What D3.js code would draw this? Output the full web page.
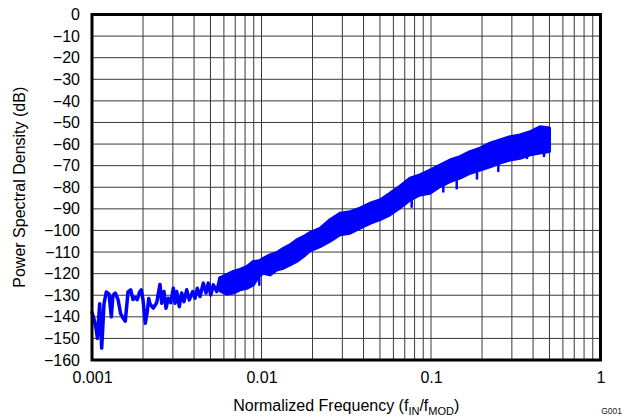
<!DOCTYPE html>
<html><head><meta charset="utf-8">
<script src="https://cdn.jsdelivr.net/npm/d3@7"></script>
<style>body{margin:0;background:#fff}svg{display:block}text{font-family:"Liberation Sans",Arial,sans-serif}</style>
</head><body>
<svg id="c" width="625" height="418"></svg>
<script>
const xTicks = [0.001, 0.01, 0.1, 1];
const xTickLabels = ["0.001", "0.01", "0.1", "1"];
const yTicks = [0, -10, -20, -30, -40, -50, -60, -70, -80, -90, -100, -110, -120, -130, -140, -150, -160];

// low-frequency trace (single line)
const lowFreq = [0.001000, 0.001027, 0.001060, 0.001075, 0.001110, 0.001141, 0.001177, 0.001214, 0.001260, 0.001300,
  0.001330, 0.001372, 0.001424, 0.001476, 0.001523, 0.001572, 0.001631, 0.001692, 0.001746, 0.001786,
  0.001850, 0.001911, 0.001953, 0.001999, 0.002063, 0.002120, 0.002161,
  0.002198, 0.002300, 0.002408, 0.002519, 0.002577, 0.002659, 0.002733, 0.002819, 0.002913, 0.003018,
  0.003089, 0.003161, 0.003273, 0.003382, 0.003489, 0.003621, 0.003750, 0.003927, 0.004052, 0.004181,
  0.004337, 0.004536, 0.004706, 0.004855, 0.005016, 0.005195, 0.005442, 0.005690, 0.005952, 0.006233];
const lowPsd = [-138, -141, -146, -150, -134, -154.5, -134, -128.5, -129.5, -140,
  -130, -129, -132, -138.5, -140.5, -142, -128.5, -127.5, -132, -131,
  -132, -128.5, -127.5, -132, -143, -137.5, -131.5,
  -134, -136, -133.5, -125, -133.7, -128.3, -136, -131.4, -133.5, -126.8,
  -133.7, -128.3, -135.3, -129, -133, -127.5, -132.2, -128.3, -131.4, -126.8,
  -130.6, -124.4, -129, -124.4, -129.9, -125.2, -128.3, -122, -126.8, -120.6];

// dense band: upper and lower envelope
const bandFreq = [0.005690, 0.006233, 0.006818, 0.007466, 0.008177, 0.008946, 0.009705, 0.01025, 0.01122,
  0.01229, 0.01345, 0.01473, 0.01613, 0.01765, 0.01932, 0.02214, 0.02536, 0.02905, 0.03327,
  0.03811, 0.04366, 0.05001, 0.05729, 0.06562, 0.07517, 0.08611, 0.09865, 0.1130, 0.1294,
  0.1483, 0.1699, 0.1946, 0.2229, 0.2553, 0.2925, 0.3350, 0.3838, 0.4397, 0.5];
const bandHigh = [-122, -120.5, -119, -118, -116.8, -114.4, -114, -112.9, -111.3,
  -110.3, -108.3, -106.7, -104.4, -102.9, -101, -99, -95, -92, -91.3,
  -89.7, -87.4, -85.9, -82.8, -79.5, -75.8, -74.3, -72, -69.7, -67.4,
  -65.8, -63.5, -61.9, -59.6, -58.1, -56.6, -55.8, -54.3, -52, -52.5];
const bandLow = [-128, -129.5, -129, -127.5, -126.8, -125.2, -121, -119.8, -120.6,
  -118.3, -117.5, -116, -114.4, -112.1, -109.5, -107.5, -105, -102, -101.3,
  -99, -96.7, -95, -92.8, -89.5, -85.9, -83.6, -82.8, -79.7, -77.4,
  -75.8, -73.5, -72, -70.5, -68.8, -67.4, -66.6, -65, -64.2, -63.5];

// downward spikes below the band
const spikeFreq = [0.009705, 0.07692, 0.1182, 0.1418, 0.1868, 0.2495, 0.3685, 0.4642];
const spikeBase = [-119, -84, -78, -76, -72, -68, -64, -63];
const spikeTip = [-125.2, -89, -82, -80.5, -76, -72.5, -66.5, -65.5];

const L = 92, R = 600.5, T = 14.5, B = 360;
const svg = d3.select("#c");

const x = d3.scaleLog().domain([0.001, 1]).range([L, R]);
const y = d3.scaleLinear().domain([0, -160]).range([T, B]);

// grid
const minor = [];
for (let d = 0.001; d < 1; d *= 10) for (let k = 1; k <= 9; k++) minor.push(d * k);
const g = svg.append("g");
g.selectAll("line.v").data(minor.filter(v => v > 0.0011)).join("line")
  .attr("x1", d => x(d)).attr("x2", d => x(d)).attr("y1", T).attr("y2", B)
  .attr("stroke", "#3a3a3a").attr("stroke-width", 1);
g.selectAll("line.h").data(yTicks.filter(v => v !== 0 && v !== -160)).join("line")
  .attr("x1", L).attr("x2", R).attr("y1", d => y(d)).attr("y2", d => y(d))
  .attr("stroke", "#3a3a3a").attr("stroke-width", 1);

// data
const blue = "#0000ff";
const area = d3.area().x((d, i) => x(bandFreq[i])).y0((d, i) => y(bandLow[i])).y1((d, i) => y(bandHigh[i]));
svg.append("path").attr("d", area(bandFreq))
  .attr("fill", blue).attr("stroke", blue).attr("stroke-width", 3).attr("stroke-linejoin", "round");

const line = d3.line().x((d, i) => x(lowFreq[i])).y((d, i) => y(lowPsd[i]));
svg.append("path").attr("d", line(lowFreq))
  .attr("fill", "none").attr("stroke", blue).attr("stroke-width", 3.5).attr("stroke-linejoin", "round").attr("stroke-linecap", "round");

svg.append("g").selectAll("line").data(spikeFreq).join("line")
  .attr("x1", d => x(d)).attr("x2", d => x(d))
  .attr("y1", (d, i) => y(spikeBase[i])).attr("y2", (d, i) => y(spikeTip[i]))
  .attr("stroke", blue).attr("stroke-width", 2.5).attr("stroke-linecap", "round");

// frame
svg.append("rect").attr("x", L).attr("y", T).attr("width", R - L).attr("height", B - T)
  .attr("fill", "none").attr("stroke", "#000").attr("stroke-width", 3);

// axes
const yAxis = d3.axisLeft(y).tickValues(yTicks).tickSize(0).tickPadding(12).tickFormat(d3.format("d"));
const ya = svg.append("g").attr("transform", `translate(${L},0)`).call(yAxis);
ya.select(".domain").remove();
ya.selectAll("text").attr("font-size", 16).attr("fill", "#000").attr("font-family", "'Liberation Sans',Arial,sans-serif");

const xAxis = d3.axisBottom(x).tickValues(xTicks).tickSize(0).tickPadding(12).tickFormat((d, i) => xTickLabels[i]);
const xa = svg.append("g").attr("transform", `translate(0,${B})`).call(xAxis);
xa.select(".domain").remove();
xa.selectAll("text").attr("font-size", 16).attr("fill", "#000").attr("font-family", "'Liberation Sans',Arial,sans-serif");

// titles
const xt = svg.append("text").attr("x", (L + R) / 2).attr("y", 411).attr("text-anchor", "middle")
  .attr("font-size", 16).attr("fill", "#000");
xt.append("tspan").text("Normalized Frequency (f");
xt.append("tspan").attr("font-size", 11).attr("dy", 4).text("IN");
xt.append("tspan").attr("dy", -4).text("/f");
xt.append("tspan").attr("font-size", 11).attr("dy", 4).text("MOD");
xt.append("tspan").attr("dy", -4).text(")");

svg.append("text").attr("transform", `translate(25,${(T + B) / 2}) rotate(-90)`)
  .attr("text-anchor", "middle").attr("font-size", 16).attr("fill", "#000")
  .text("Power Spectral Density (dB)");

svg.append("text").attr("x", 622).attr("y", 414).attr("text-anchor", "end")
  .attr("font-size", 8.5).attr("fill", "#222").text("G001");
</script>
</body></html>
